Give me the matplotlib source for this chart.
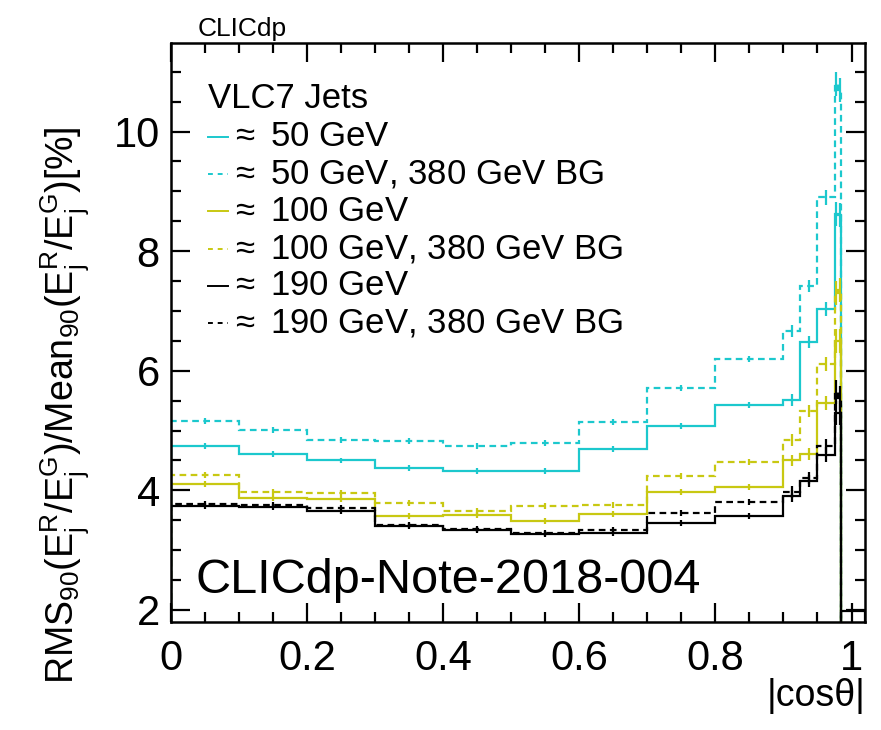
import numpy as np
import matplotlib
matplotlib.use("Agg")
import matplotlib.pyplot as plt
from matplotlib.ticker import MultipleLocator, FuncFormatter

plt.rcParams['font.family'] = ['Liberation Sans', 'DejaVu Sans']
plt.rcParams['mathtext.fontset'] = 'custom'
plt.rcParams['mathtext.rm'] = 'Liberation Sans'
plt.rcParams['mathtext.it'] = 'Liberation Sans:italic'

# |cos theta| bin edges
edges = [0.0, 0.1, 0.2, 0.3, 0.4, 0.5, 0.6, 0.7, 0.8, 0.9,
         0.925, 0.95, 0.975, 0.98, 0.985]

# RMS90/Mean90 [%] per bin
e50 = [4.75, 4.61, 4.50, 4.37, 4.33, 4.32, 4.69, 5.08, 5.42, 5.51, 6.48, 7.03, 8.62, 8.60]
e50_bg = [5.16, 5.01, 4.85, 4.82, 4.74, 4.80, 5.14, 5.72, 6.20, 6.67, 7.42, 8.90, 10.80, 10.70]
e100 = [4.11, 3.87, 3.85, 3.57, 3.59, 3.49, 3.61, 3.98, 4.05, 4.50, 4.61, 5.46, 6.50, 6.50]
e100_bg = [4.25, 3.98, 3.95, 3.79, 3.66, 3.74, 3.76, 4.24, 4.47, 4.84, 5.32, 6.11, 7.30, 7.35]
e190 = [3.74, 3.72, 3.66, 3.41, 3.33, 3.27, 3.28, 3.45, 3.57, 3.90, 4.15, 4.60, 5.30, 5.30]
e190_bg = [3.78, 3.76, 3.71, 3.42, 3.35, 3.29, 3.33, 3.63, 3.80, 3.98, 4.21, 4.74, 5.65, 5.55]

# statistical errors (same for all samples, roughly)
err = [0.05, 0.05, 0.05, 0.05, 0.05, 0.05, 0.05, 0.05, 0.05, 0.10, 0.10, 0.12, 0.20, 0.20]

# overflow-ish bin right of the last edge for the 190 GeV sample
tail_edges = [0.985, 1.02]
tail_190 = [1.98]

labels = [r'$\approx$ 50 GeV', r'$\approx$ 50 GeV, 380 GeV BG',
          r'$\approx$ 100 GeV', r'$\approx$ 100 GeV, 380 GeV BG',
          r'$\approx$ 190 GeV', r'$\approx$ 190 GeV, 380 GeV BG']

cyan = '#1cc8cd'
olive = '#c8c812'
series = [
    (e50, cyan, '-'),
    (e50_bg, cyan, '--'),
    (e100, olive, '-'),
    (e100_bg, olive, '--'),
    (e190, 'black', '-'),
    (e190_bg, 'black', '--'),
]

YMIN, YMAX = 1.8, 11.48

fig = plt.figure(figsize=(8.81, 7.30), dpi=100)
ax = fig.add_axes([0.194, 0.148, 0.788, 0.793])

centers = 0.5 * (np.array(edges[:-1]) + np.array(edges[1:]))
lw = 1.6
for vals, col, ls in series:
    st = ax.stairs(vals, edges, baseline=YMIN, color=col, lw=lw, linestyle=ls)
    if ls == '--':
        st.set_linestyle((0, (3, 2)))
    ax.errorbar(centers, vals, yerr=err, fmt='none', ecolor=col, elinewidth=lw, capsize=0)

ax.stairs(tail_190, tail_edges, baseline=YMIN, color='black', lw=lw)

ax.set_xlim(0, 1.02)
ax.set_ylim(YMIN, YMAX)

ax.xaxis.set_major_locator(MultipleLocator(0.2))
ax.xaxis.set_minor_locator(MultipleLocator(0.05))
ax.yaxis.set_major_locator(MultipleLocator(2))
ax.yaxis.set_minor_locator(MultipleLocator(0.5))
ax.xaxis.set_major_formatter(FuncFormatter(lambda v, p: f'{v:g}'))
ax.yaxis.set_major_formatter(FuncFormatter(lambda v, p: f'{v:g}'))

ax.tick_params(which='both', direction='in', top=True, right=True, width=1.6)
ax.tick_params(which='major', length=14, labelsize=30)
ax.tick_params(which='minor', length=7)
ax.tick_params(axis='x', which='major', pad=12)
ax.tick_params(axis='y', which='major', pad=8)
for sp in ax.spines.values():
    sp.set_linewidth(1.8)

ax.set_ylabel(r'RMS$_{90}$(E$_{\rm j}^{\rm R}$/E$_{\rm j}^{\rm G}$)/Mean$_{90}$(E$_{\rm j}^{\rm R}$/E$_{\rm j}^{\rm G}$)[%]',
              fontsize=27)
ax.yaxis.set_label_coords(-0.115, 0.375)

ax.text(1.0, -0.128, '|cosθ|', transform=ax.transAxes, ha='right', va='center', fontsize=27)
ax.text(0.039, 1.004, 'CLICdp', transform=ax.transAxes, ha='left', va='bottom', fontsize=19)
ax.text(0.035, 0.072, 'CLICdp-Note-2018-004', transform=ax.transAxes, ha='left', va='center', fontsize=35)

# legend block
ax.text(0.053, 0.905, 'VLC7 Jets', transform=ax.transAxes, ha='left', va='center', fontsize=25)
row0, step = 0.838, 0.0644
for i, ((vals, col, ls), lab) in enumerate(zip(series, labels)):
    y = row0 - i * step
    ln, = ax.plot([0.053, 0.082], [y, y], transform=ax.transAxes, color=col, lw=1.4, clip_on=False)
    if ls == '--':
        ln.set_linestyle((0, (2.5, 2.5)))
    ax.text(0.085, y, lab, transform=ax.transAxes, ha='left', va='center', fontsize=25)

fig.savefig('out.png', dpi=100)
